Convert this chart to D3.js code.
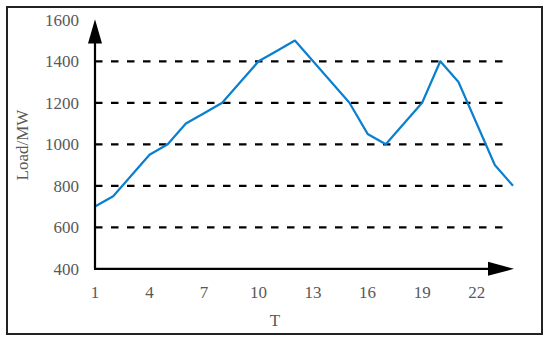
<!DOCTYPE html>
<html>
<head>
<meta charset="utf-8">
<script src="https://cdn.jsdelivr.net/npm/d3@7"></script>
<style>
  body { margin: 0; background: #fff; }
  svg text { font-family: "Liberation Serif", serif; fill: #595959; }
</style>
</head>
<body>
<script>
// hourly load data
var hours = d3.range(1, 25);
var load = [700, 750, 850, 950, 1000, 1100, 1150, 1200, 1300, 1400, 1450, 1500,
            1400, 1300, 1200, 1050, 1000, 1100, 1200, 1400, 1300, 1100, 900, 800];
var xTicks = [1, 4, 7, 10, 13, 16, 19, 22];
var yTicks = [400, 600, 800, 1000, 1200, 1400, 1600];
var gridVals = [600, 800, 1000, 1200, 1400];

var width = 550, height = 343;

var svg = d3.select("body").append("svg")
  .attr("width", width)
  .attr("height", height);

// outer frame
svg.append("rect")
  .attr("x", 7).attr("y", 7)
  .attr("width", 535).attr("height", 327)
  .attr("fill", "none")
  .attr("stroke", "#222")
  .attr("stroke-width", 2);

// set the ranges
var x = d3.scaleLinear().domain([1, 24]).range([95, 513]);
var y = d3.scaleLinear().domain([400, 1600]).range([268.8, 19.8]);

// dashed grid lines
svg.selectAll(".grid")
  .data(gridVals)
  .enter().append("line")
  .attr("class", "grid")
  .attr("x1", x(1)).attr("x2", 507)
  .attr("y1", function(d) { return y(d); })
  .attr("y2", function(d) { return y(d); })
  .attr("stroke", "#000")
  .attr("stroke-width", 2.2)
  .attr("stroke-dasharray", "7.5,8.5");

// y tick labels
svg.selectAll(".ylab")
  .data(yTicks)
  .enter().append("text")
  .attr("class", "ylab")
  .attr("x", 79)
  .attr("y", function(d) { return y(d); })
  .attr("dy", "0.35em")
  .attr("text-anchor", "end")
  .style("font-size", "17px")
  .text(function(d) { return d; });

// x tick labels
svg.selectAll(".xlab")
  .data(xTicks)
  .enter().append("text")
  .attr("class", "xlab")
  .attr("x", function(d) { return x(d); })
  .attr("y", 297.5)
  .attr("text-anchor", "middle")
  .style("font-size", "17px")
  .text(function(d) { return d; });

// axis titles
svg.append("text")
  .attr("x", 275).attr("y", 326)
  .attr("text-anchor", "middle")
  .style("font-size", "17px")
  .text("T");

svg.append("text")
  .attr("transform", "translate(28,145) rotate(-90)")
  .attr("text-anchor", "middle")
  .style("font-size", "17px")
  .text("Load/MW");

// the load line
var valueline = d3.line()
  .x(function(d, i) { return x(hours[i]); })
  .y(function(d) { return y(d); });

svg.append("path")
  .datum(load)
  .attr("fill", "none")
  .attr("stroke", "#0a7fd0")
  .attr("stroke-width", 2.2)
  .attr("stroke-linejoin", "round")
  .attr("d", valueline);

// axes with arrows
var x0 = x(1), y0 = y(400);
svg.append("line")
  .attr("x1", x0).attr("y1", y0)
  .attr("x2", x0).attr("y2", 40)
  .attr("stroke", "#000").attr("stroke-width", 2.2);
svg.append("line")
  .attr("x1", x0 - 1).attr("y1", y0)
  .attr("x2", 490).attr("y2", y0)
  .attr("stroke", "#000").attr("stroke-width", 2.2);

svg.append("path")
  .attr("d", "M" + x0 + ",19.3L" + (x0 - 7) + ",43.5L" + (x0 + 7) + ",43.5Z")
  .attr("fill", "#000");
svg.append("path")
  .attr("d", "M514," + y0 + "L488," + (y0 - 7) + "L488," + (y0 + 7) + "Z")
  .attr("fill", "#000");
</script>
</body>
</html>
